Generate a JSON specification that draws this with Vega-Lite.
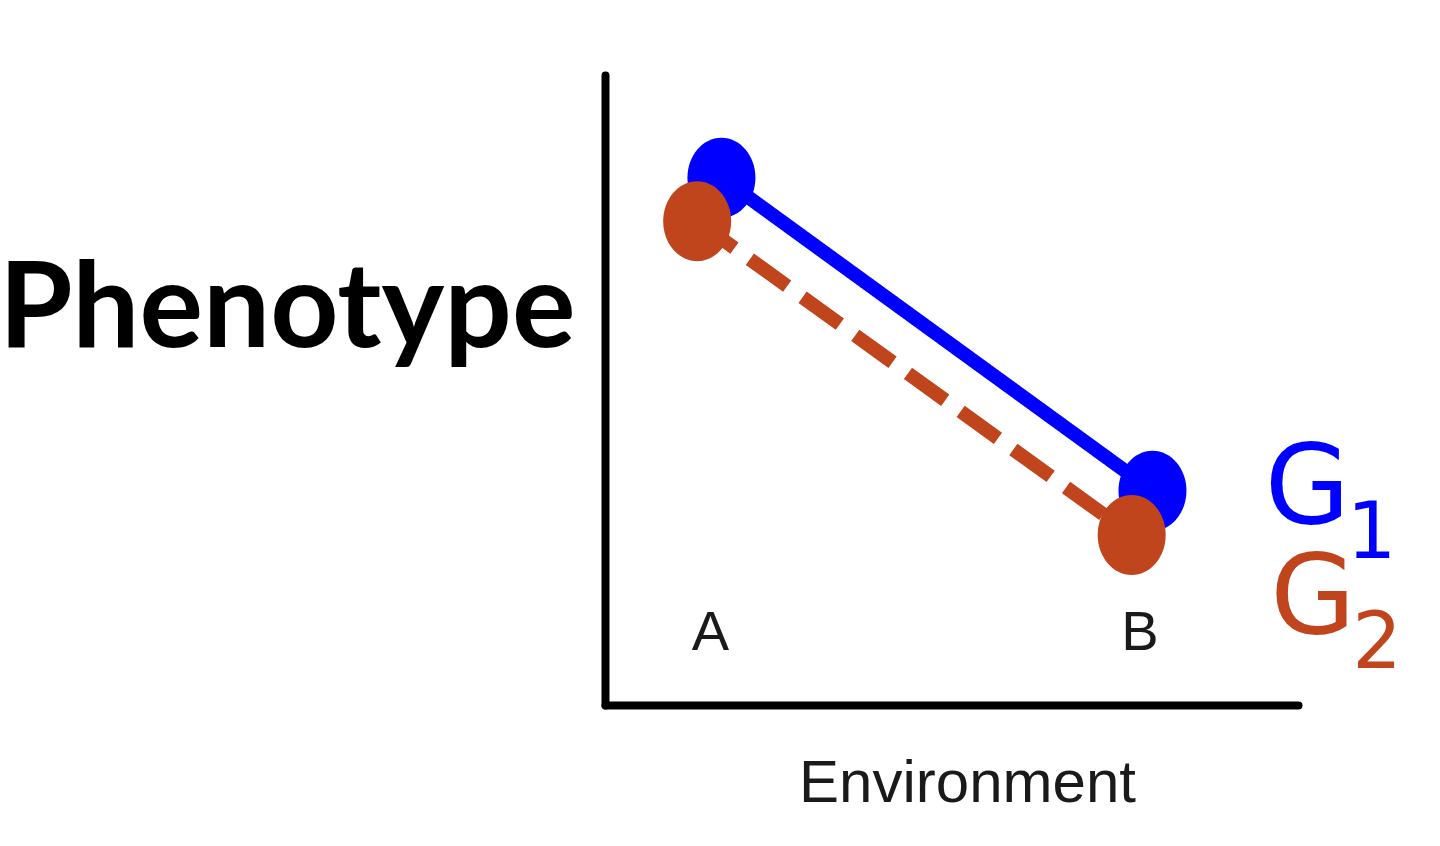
{
  "$schema": "https://vega.github.io/schema/vega-lite/v6.json",
  "autosize": "none",
  "width": 693,
  "height": 630,
  "padding": {"left": 605, "top": 75, "right": 142, "bottom": 141},
  "background": "white",
  "config": {"view": {"stroke": null}},
  "datasets": {
    "pts": [
      {"genotype": "G1", "env": "A", "x": 1.68, "y": 8.37},
      {"genotype": "G1", "env": "B", "x": 7.9, "y": 3.4},
      {"genotype": "G2", "env": "A", "x": 1.33, "y": 7.68},
      {"genotype": "G2", "env": "B", "x": 7.6, "y": 2.7}
    ],
    "envs": [
      {"label": "A", "x": 1.52, "y": 0.87},
      {"label": "B", "x": 7.72, "y": 0.87}
    ],
    "keys": [
      {"genotype": "G1", "letter": "G", "sub": "1", "x": 9.52, "y": 2.89},
      {"genotype": "G2", "letter": "G", "sub": "2", "x": 9.6, "y": 1.14}
    ]
  },
  "encoding": {
    "x": {
      "field": "x",
      "type": "quantitative",
      "scale": {"domain": [0, 10], "nice": false, "zero": false},
      "axis": {
        "domain": true, "domainColor": "black", "domainWidth": 8, "domainCap": "round",
        "ticks": false, "labels": false, "grid": false,
        "title": "Environment", "titleFont": "Liberation Sans", "titleFontSize": 60,
        "titleFontWeight": "normal", "titleColor": "#1a1a1a",
        "titleX": 362, "titleY": 96, "titleBaseline": "alphabetic", "titleAlign": "center"
      }
    },
    "y": {
      "field": "y",
      "type": "quantitative",
      "scale": {"domain": [0, 10], "nice": false, "zero": false},
      "axis": {
        "domain": true, "domainColor": "black", "domainWidth": 8, "domainCap": "round",
        "ticks": false, "labels": false, "grid": false,
        "title": "Phenotype", "titleFont": "Lato", "titleFontSize": 119,
        "titleFontWeight": "bold", "titleColor": "black", "titleAngle": 0,
        "titleX": -30, "titleY": 271, "titleAlign": "right", "titleBaseline": "alphabetic"
      }
    }
  },
  "layer": [
    {
      "data": {"name": "pts"},
      "mark": {"type": "line", "strokeWidth": 14},
      "encoding": {
        "color": {"field": "genotype", "type": "nominal", "scale": {"domain": ["G1", "G2"], "range": ["#0000ff", "#c0441c"]}, "legend": null},
        "strokeDash": {"field": "genotype", "type": "nominal", "scale": {"domain": ["G1", "G2"], "range": [[1, 0], [46, 19]]}, "legend": null},
        "detail": {"field": "genotype"}
      }
    },
    {
      "data": {"name": "pts"},
      "mark": {"type": "point", "filled": true, "opacity": 1, "size": 6400,
        "shape": "M -0.85 0 A 0.85 1 0 1 0 0.85 0 A 0.85 1 0 1 0 -0.85 0 Z"},
      "encoding": {
        "color": {"field": "genotype", "type": "nominal", "scale": {"domain": ["G1", "G2"], "range": ["#0000ff", "#c0441c"]}, "legend": null}
      }
    },
    {
      "data": {"name": "envs"},
      "mark": {"type": "text", "font": "Liberation Sans", "fontSize": 56, "color": "#1a1a1a", "align": "center", "baseline": "alphabetic"},
      "encoding": {"text": {"field": "label"}}
    },
    {
      "data": {"name": "keys"},
      "mark": {"type": "text", "font": "DejaVu Sans", "fontSize": 110, "align": "left", "baseline": "alphabetic", "clip": false},
      "encoding": {
        "text": {"field": "letter"},
        "color": {"field": "genotype", "type": "nominal", "scale": {"domain": ["G1", "G2"], "range": ["#0000ff", "#c0441c"]}, "legend": null}
      }
    },
    {
      "data": {"name": "keys"},
      "mark": {"type": "text", "font": "DejaVu Sans", "fontSize": 78, "align": "left", "baseline": "alphabetic", "dx": 82, "dy": 35, "clip": false},
      "encoding": {
        "text": {"field": "sub"},
        "color": {"field": "genotype", "type": "nominal", "scale": {"domain": ["G1", "G2"], "range": ["#0000ff", "#c0441c"]}, "legend": null}
      }
    }
  ]
}
